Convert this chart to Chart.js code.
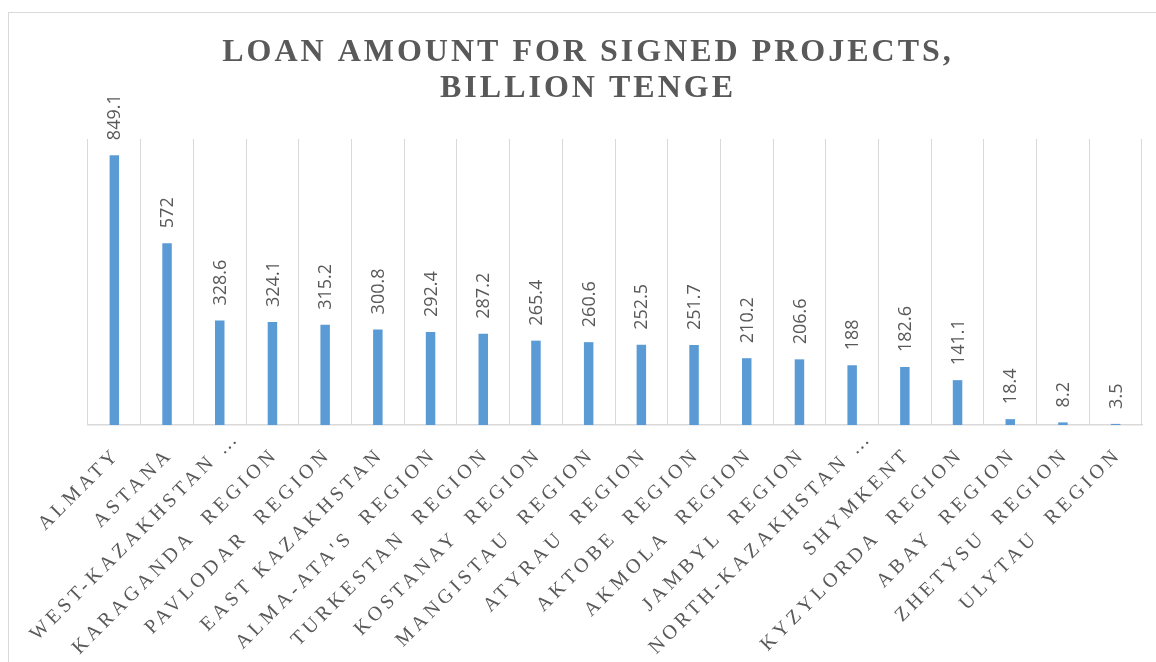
<!DOCTYPE html>
<html>
<head>
<meta charset="utf-8">
<script src="https://cdn.jsdelivr.net/npm/chart.js@4.4.1/dist/chart.umd.min.js"></script>
<style>
html,body{margin:0;padding:0;background:#fff;overflow:hidden}
#wrap{position:relative;width:1156px;height:662px}
</style>
</head>
<body>
<div id="wrap"><canvas id="c"></canvas></div>
<script>
const categories = [
  'ALMATY', 'ASTANA', 'WEST-KAZAKHSTAN …', 'KARAGANDA  REGION', 'PAVLODAR  REGION',
  'EAST KAZAKHSTAN', "ALMA-ATA'S  REGION", 'TURKESTAN  REGION', 'KOSTANAY  REGION', 'MANGISTAU  REGION',
  'ATYRAU  REGION', 'AKTOBE  REGION', 'AKMOLA  REGION', 'JAMBYL  REGION', 'NORTH-KAZAKHSTAN …',
  'SHYMKENT', 'KYZYLORDA  REGION', 'ABAY  REGION', 'ZHETYSU  REGION', 'ULYTAU  REGION'
];
const values = [849.1, 572, 328.6, 324.1, 315.2, 300.8, 292.4, 287.2, 265.4, 260.6,
                252.5, 251.7, 210.2, 206.6, 188, 182.6, 141.1, 18.4, 8.2, 3.5];
const titleLines = ['LOAN AMOUNT FOR SIGNED PROJECTS,', 'BILLION TENGE'];
const yMin = 0;
const yMax = 900;

const TICK_SPACING = '4px';
const TITLE_SPACING = '3px';
const TITLE_SHIFT = -27;
// truncated (ellipsis) labels sit further along their baseline, as in the source
const TRUNC_SHIFT = [14, -17];

const borderPlugin = {
  id: 'frameBorder',
  beforeDraw(chart) {
    const ctx = chart.ctx;
    ctx.save();
    ctx.strokeStyle = '#d9d9d9';
    ctx.lineWidth = 1;
    ctx.strokeRect(8.5, 12.5, 1300, 800);
    ctx.restore();
  }
};

const spacingPlugin = {
  id: 'spacing',
  beforeLayout(chart) {
    chart.ctx.letterSpacing = TICK_SPACING;
    const sx = chart.scales.x;
    if (sx && !sx._spPatched) {
      sx._spPatched = true;
      const orig = Chart.Scale.prototype.draw;
      sx.draw = function (area) {
        const c = this.ctx;
        c.save();
        c.letterSpacing = TICK_SPACING;
        orig.call(this, area);
        c.restore();
      };
      const origCLI = Chart.Scale.prototype._computeLabelItems;
      sx._computeLabelItems = function (area) {
        const items = origCLI.call(this, area);
        items.forEach((it) => {
          const lbl = String(it.label);
          if (lbl.endsWith('…') && it.options && it.options.translation) {
            const tr = it.options.translation;
            it.options.translation = [tr[0] + TRUNC_SHIFT[0], tr[1] + TRUNC_SHIFT[1]];
          }
        });
        return items;
      };
    }
    const t = chart.titleBlock;
    if (t && !t._spPatched) {
      t._spPatched = true;
      const origT = Object.getPrototypeOf(t).draw;
      t.draw = function (area) {
        const c = this.ctx;
        c.save();
        c.letterSpacing = TITLE_SPACING;
        c.translate(TITLE_SHIFT, 0);
        origT.call(this, area);
        c.restore();
      };
    }
  },
  afterLayout(chart) {
    chart.ctx.letterSpacing = '0px';
  }
};

const valueLabels = {
  id: 'valueLabels',
  afterDatasetsDraw(chart) {
    const ctx = chart.ctx;
    const meta = chart.getDatasetMeta(0);
    ctx.save();
    ctx.letterSpacing = '0px';
    ctx.fillStyle = '#595959';
    ctx.font = '18px "Open Sans"';
    ctx.textAlign = 'left';
    ctx.textBaseline = 'middle';
    meta.data.forEach((bar, i) => {
      ctx.save();
      ctx.translate(bar.x + 1, bar.y - 15);
      ctx.rotate(-Math.PI / 2);
      ctx.fillText(String(values[i]), 0, 0);
      ctx.restore();
    });
    ctx.restore();
  }
};

function build() {
  new Chart(document.getElementById('c'), {
    type: 'bar',
    data: {
      labels: categories,
      datasets: [{
        data: values,
        backgroundColor: '#5b9bd5',
        borderWidth: 0,
        barPercentage: 0.18,
        categoryPercentage: 1.0
      }]
    },
    options: {
      responsive: true,
      maintainAspectRatio: false,
      animation: false,
      devicePixelRatio: 1,
      layout: { padding: { left: 88, right: 14, top: 0, bottom: 0 } },
      plugins: {
        legend: { display: false },
        tooltip: { enabled: false },
        title: {
          display: true,
          text: titleLines,
          color: '#595959',
          font: { family: 'Liberation Serif', size: 32, weight: 'bold', lineHeight: 1.14 },
          padding: { top: 34, bottom: 32 }
        }
      },
      scales: {
        x: {
          grid: { display: true, color: '#d9d9d9', lineWidth: 1, drawTicks: false, offset: true },
          border: { display: true, color: '#d9d9d9', width: 1.5 },
          ticks: {
            color: '#595959',
            font: { family: 'Liberation Serif', size: 20 },
            minRotation: 45,
            maxRotation: 45,
            autoSkip: false,
            padding: 18,
            labelOffset: 3
          },
          afterFit(s) { s.height = 237; s.paddingLeft = 0; s.paddingRight = 0; }
        },
        y: { display: false, min: yMin, max: yMax }
      }
    },
    plugins: [borderPlugin, spacingPlugin, valueLabels]
  });
}

Promise.all([
  document.fonts.load('18px "Open Sans"'),
  document.fonts.load('bold 32px "Liberation Serif"'),
  document.fonts.load('20px "Liberation Serif"')
]).then(build, build);
</script>
</body>
</html>
